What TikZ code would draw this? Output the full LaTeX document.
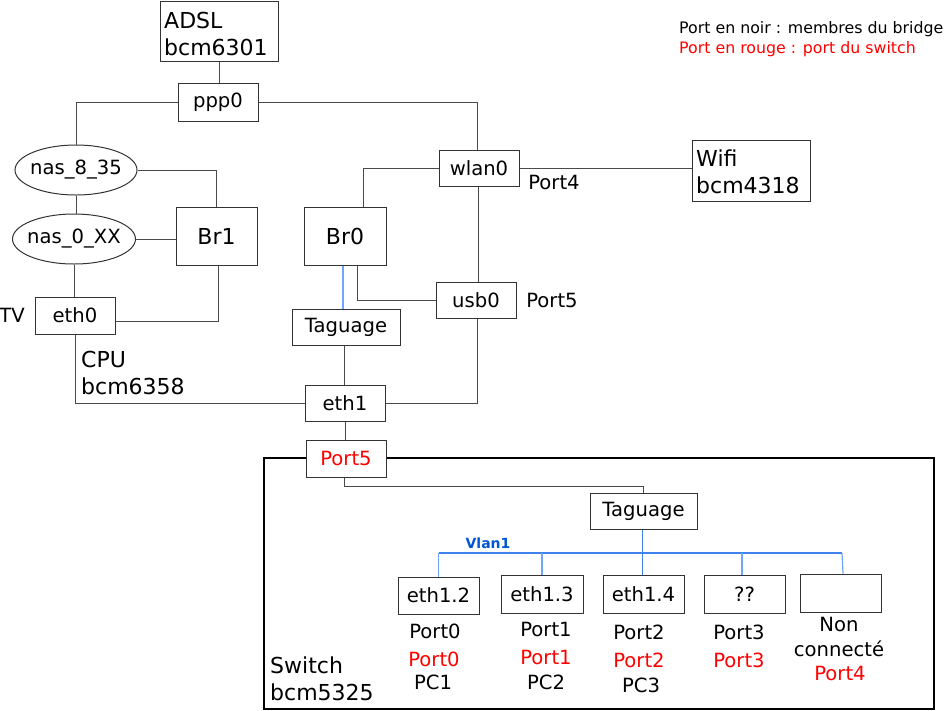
\documentclass[tikz,border=0pt]{standalone}
\usepackage{fontspec}
\setmainfont{DejaVu Sans}
\usetikzlibrary{shapes.geometric,calc}
\definecolor{lc}{HTML}{4A4A4A}
\definecolor{bc}{HTML}{333333}
\definecolor{blueA}{HTML}{6FA4FF}
\definecolor{blueB}{HTML}{3F82EE}
\definecolor{vlan}{HTML}{0055D4}
\definecolor{rd}{HTML}{FF0000}
\newcommand\fsm{\fontsize{19.6}{22}\selectfont}
\newcommand\fbg{\fontsize{22}{27}\selectfont}
\newcommand\flg{\fontsize{15.8}{20}\selectfont}
\tikzset{
  bx/.style={draw=bc, line width=1pt, inner sep=0pt, font=\fsm},
  ell/.style={bx, ellipse, inner xsep=-8pt},
  con/.style={draw=lc, line width=1pt},
  bcon/.style={draw=blueA, line width=1.2pt},
  bbus/.style={draw=blueB, line width=1.2pt},
  lbl/.style={inner sep=0pt, font=\fsm},
  big/.style={inner sep=0pt, font=\fbg, align=left, anchor=base west},
  rtext/.style={lbl, text=rd, anchor=base},
  ktext/.style={lbl, anchor=base}
}
\begin{document}
\begin{tikzpicture}[x=1pt,y=-1pt]
\useasboundingbox (0,0) rectangle (944,710);
% boxes
\node[bx, minimum width=118, minimum height=60] (adsl) at (219,31) {};
\node[big] (adsltxt) at (164,55) {ADSL\\bcm6301};
\node[bx, minimum width=80, minimum height=38] (ppp0) at (218,102) {ppp0};
\node[ell, minimum width=122, minimum height=50] (nas835) at (76,170) {nas\_8\_35};
\node[ell, minimum width=123, minimum height=50] (nas0xx) at (74,239) {nas\_0\_XX};
\node[bx, minimum width=81, minimum height=58, font=\fbg] (br1) at (216.5,236) {Br1};
\node[bx, minimum width=80, minimum height=37] (eth0) at (75,315.5) {eth0};
\node[lbl] (tv) at (12,315) {TV};
\node[big] (cpu) at (81,394) {CPU\\bcm6358};
\node[bx, minimum width=82, minimum height=58, font=\fbg] (br0) at (345,236) {Br0};
\node[bx, minimum width=80, minimum height=36] (wlan0) at (479,168) {wlan0};
\node[lbl] (p4lbl) at (554,182) {Port4};
\node[bx, minimum width=118, minimum height=61] (wifi) at (751,170.5) {};
\node[big] (wifitxt) at (696,193) {Wifi\\bcm4318};
\node[bx, minimum width=80, minimum height=36] (usb0) at (476,300) {usb0};
\node[lbl] (p5lbl) at (552,300) {Port5};
\node[bx, minimum width=108, minimum height=36] (tag1) at (346,327) {Taguage};
\node[bx, minimum width=80, minimum height=36] (eth1) at (345,403) {eth1};
% switch
\node[draw=black, line width=1.3pt, minimum width=670, minimum height=251, inner sep=0pt] (sw) at (599,583.5) {};
\node[big] (swtxt) at (270,700) {Switch\\bcm5325};
\node[bx, fill=white, minimum width=80, minimum height=37, text=rd] (port5) at (346,458.5) {Port5};
\node[bx, minimum width=107, minimum height=36] (tag2) at (643.5,511) {Taguage};
\node[bx, minimum width=81, minimum height=37] (e12) at (438.5,595.5) {eth1.2};
\node[bx, minimum width=82, minimum height=38] (e13) at (542,594) {eth1.3};
\node[bx, minimum width=81, minimum height=38] (e14) at (643.5,594) {eth1.4};
\node[bx, minimum width=81, minimum height=38] (eqq) at (744.5,594) {??};
\node[bx, minimum width=81, minimum height=38] (enc) at (840.5,593) {};
\node[inner sep=0pt, font=\bfseries\fontsize{14}{16}\selectfont, text=vlan] (vlan1) at (488,543) {Vlan1};
% port labels
\node[ktext] (k0) at (435,638) {Port0};
\node[rtext] (r0) at (434,666) {Port0};
\node[ktext] (pc1) at (433,689) {PC1};
\node[ktext] (k1) at (546,636) {Port1};
\node[rtext] (r1) at (546,664) {Port1};
\node[ktext] (pc2) at (546,689) {PC2};
\node[ktext] (k2) at (639,639) {Port2};
\node[rtext] (r2) at (639,667) {Port2};
\node[ktext] (pc3) at (641,692) {PC3};
\node[ktext] (k3) at (739,639) {Port3};
\node[rtext] (r3) at (739,667) {Port3};
\node[ktext] (non) at (839,631) {Non};
\node[ktext] (conn) at (839,656) {connecté};
\node[rtext] (r4) at (840,680) {Port4};
% legend
\node[inner sep=0pt, font=\flg, anchor=base west] (leg1) at (679,33) {Port en noir : membres du bridge};
\node[inner sep=0pt, font=\flg, anchor=base west, text=rd] (leg2) at (679,53) {Port en rouge : port du switch};
% connectors
\draw[con] (adsl.south) -- (adsl.south |- ppp0.north);
\draw[con] (ppp0.west) -| (nas835.north);
\draw[con] (ppp0.east) -| ([xshift=-2pt]wlan0.north);
\draw[con] (nas835.south) -- (nas835.south |- nas0xx.north);
\draw[con] (nas835.east) -| (br1.north);
\draw[con] (nas0xx.east) -- (nas0xx.east -| br1.west);
\draw[con] (nas0xx.south) -- (nas0xx.south |- eth0.north);
\draw[con] ([yshift=-6pt]eth0.east) -| ([xshift=1.5pt]br1.south);
\draw[con] (eth0.south) |- (eth1.west);
\draw[con] (wlan0.west) -| ([xshift=18pt]br0.north);
\draw[con] (wlan0.east) -- (wlan0.east -| wifi.west);
\draw[con] ([xshift=-1pt]wlan0.south) -- ([xshift=-1pt]wlan0.south |- usb0.north);
\draw[con] ([xshift=12pt]br0.south) |- (usb0.west);
\draw[bcon] ([xshift=-2pt]br0.south) -- ([xshift=-2pt]br0.south |- tag1.north);
\draw[con] ([xshift=-2pt]tag1.south) -- ([xshift=-2pt]tag1.south |- eth1.north);
\draw[con] (eth1.east) -| ([xshift=1pt]usb0.south);
\draw[con] (eth1.south) -- (eth1.south |- port5.north);
\draw[con] ([xshift=-2pt]port5.south) -- ++(0,9) -| (tag2.north);
% vlan bus
\coordinate (bus) at (0,553);
\draw[bbus] ([xshift=-1pt]tag2.south) -- ([xshift=-1pt]tag2.south |- e14.north);
\draw[bbus] (e12.north |- bus) -- ([xshift=1.5pt]enc.north |- bus);
\draw[bcon] (e12.north) -- (e12.north |- bus);
\draw[bcon] (e13.north) -- (e13.north |- bus);
\draw[bcon] ([xshift=-2.5pt]eqq.north) -- ([xshift=-2.5pt]eqq.north |- bus);
\draw[bcon] ([xshift=2.5pt]enc.north) -- ([xshift=1.5pt]enc.north |- bus);
\end{tikzpicture}
\end{document}
